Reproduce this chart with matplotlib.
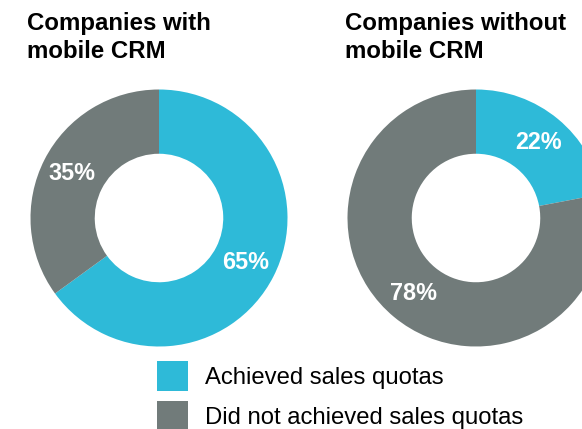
import matplotlib
matplotlib.use("Agg")
import matplotlib.pyplot as plt

plt.rcParams['font.family'] = ['Liberation Sans', 'DejaVu Sans']

# data
titles = ['Companies with\nmobile CRM', 'Companies without\nmobile CRM']
with_crm = [65, 35]
without_crm = [22, 78]
categories = ['Achieved sales quotas', 'Did not achieved sales quotas']
colors = ['#2EBAD8', '#717B7A']

W, H = 582, 429
fig = plt.figure(figsize=(W / 100, H / 100), dpi=100)
ax = fig.add_axes([0, 0, 1, 1])

centers = [(159, H - 218), (476, H - 218)]
title_x = [27, 345]
radius = 128.5

wedges = None
for vals, c, title, tx in zip([with_crm, without_crm], centers, titles, title_x):
    w, t, pct = ax.pie(vals, colors=colors, startangle=90, counterclock=False,
                       center=c, radius=radius,
                       wedgeprops=dict(width=radius * 0.5, linewidth=0),
                       autopct=lambda p: f'{p:.0f}%', pctdistance=0.76,
                       textprops=dict(color='white', fontsize=16.8, fontweight='bold'))
    if wedges is None:
        wedges = w
    fig.text(tx / W, 1 - 12 / H, title, ha='left', va='top',
             fontsize=17.3, fontweight='bold', color='black', linespacing=1.25)

ax.set_xlim(0, W)
ax.set_ylim(0, H)
ax.set_aspect('equal')
ax.axis('off')

leg = fig.legend(wedges, categories, loc='upper left',
                 bbox_to_anchor=(157 / W, 1 - 361 / H), frameon=False,
                 fontsize=17.2, handlelength=1.31, handleheight=1.55,
                 handletextpad=0.68, labelspacing=0.42, borderpad=0,
                 borderaxespad=0)

fig.savefig('out.png', dpi=100)
